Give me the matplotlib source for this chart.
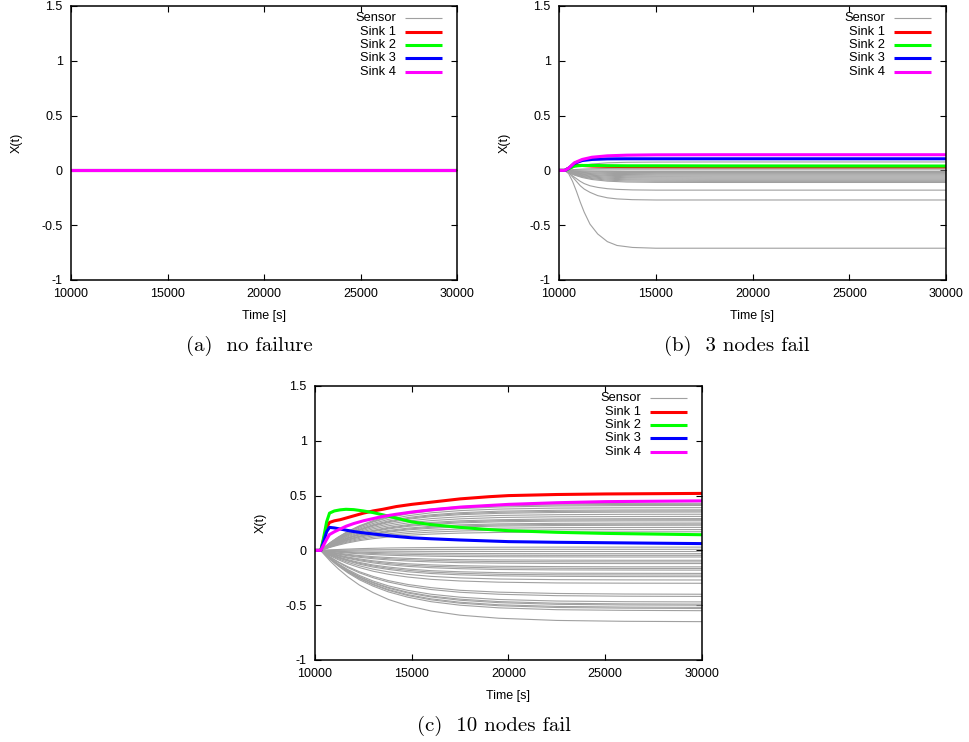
import matplotlib
matplotlib.use("Agg")
import matplotlib.pyplot as plt

plt.rcParams['font.family'] = ['Liberation Sans', 'DejaVu Sans']

# ---------------- data ----------------
x_ticks = [10000, 15000, 20000, 25000, 30000]
y_ticks = [-1, -0.5, 0, 0.5, 1, 1.5]
y_ticklabels = ['-1', '-0.5', '0', '0.5', '1', '1.5']
legend_labels = ['Sensor', 'Sink 1', 'Sink 2', 'Sink 3', 'Sink 4']
captions = ['(a)  no failure', '(b)  3 nodes fail', '(c)  10 nodes fail']

# (a) no failure: everything stays at 0
t_a = [10000, 30000]
sensors_a = [[0.0, 0.0]]
sinks_a = [[0.0, 0.0], [0.0, 0.0], [0.0, 0.0], [0.0, 0.0]]

# (b) 3 nodes fail
t_b = [10000, 10300, 10500, 10800, 11200, 11700, 12500, 13500, 15000, 18000, 30000]
sensors_b_small = [
    [0, 0, 0.014, 0.030, 0.045, 0.058, 0.069, 0.074, 0.076, 0.077, 0.077],
    [0, 0, 0.004, 0.008, 0.012, 0.015, 0.018, 0.019, 0.020, 0.020, 0.020],
    [0, 0, 0.001, 0.002, 0.003, 0.004, 0.004, 0.005, 0.005, 0.005, 0.005],
    [0, 0, -0.002, -0.004, -0.006, -0.008, -0.009, -0.010, -0.010, -0.010, -0.010],
    [0, 0, -0.004, -0.008, -0.012, -0.015, -0.018, -0.019, -0.020, -0.020, -0.020],
    [0, 0, -0.005, -0.012, -0.018, -0.023, -0.027, -0.029, -0.030, -0.030, -0.030],
    [0, 0, -0.007, -0.016, -0.024, -0.030, -0.036, -0.038, -0.040, -0.040, -0.040],
    [0, 0, -0.009, -0.020, -0.030, -0.038, -0.045, -0.048, -0.050, -0.050, -0.050],
    [0, 0, -0.011, -0.023, -0.035, -0.045, -0.053, -0.058, -0.059, -0.060, -0.060],
    [0, 0, -0.013, -0.027, -0.041, -0.053, -0.062, -0.067, -0.069, -0.070, -0.070],
    [0, 0, -0.014, -0.031, -0.047, -0.060, -0.071, -0.077, -0.079, -0.080, -0.080],
    [0, 0, -0.016, -0.035, -0.053, -0.068, -0.080, -0.086, -0.089, -0.090, -0.090],
    [0, 0, -0.018, -0.039, -0.059, -0.075, -0.089, -0.096, -0.099, -0.100, -0.100],
    [0, 0, -0.020, -0.043, -0.065, -0.083, -0.098, -0.106, -0.109, -0.110, -0.110],
]
t_b_large = [10000, 10300, 10500, 10700, 10900, 11100, 11300, 11600, 12000, 12500,
             13000, 13800, 15000, 18000, 30000]
sensors_b_large = [
    [0, 0, -0.02, -0.05, -0.075, -0.10, -0.12, -0.14, -0.155, -0.167, -0.173, -0.178, -0.18, -0.18, -0.18],
    [0, 0, -0.02, -0.06, -0.10, -0.14, -0.17, -0.20, -0.23, -0.25, -0.26, -0.267, -0.27, -0.27, -0.27],
    [0, 0, -0.03, -0.10, -0.19, -0.29, -0.38, -0.49, -0.58, -0.65, -0.685, -0.703, -0.71, -0.71, -0.71],
]
sinks_b = [
    [0, 0, 0.020, 0.045, 0.045, 0.040, 0.037, 0.035, 0.034, 0.033, 0.033],   # Sink 1
    [0, 0, 0.015, 0.040, 0.045, 0.045, 0.043, 0.042, 0.042, 0.041, 0.040],   # Sink 2
    [0, 0, 0.020, 0.065, 0.090, 0.100, 0.105, 0.106, 0.106, 0.106, 0.106],   # Sink 3
    [0, 0, 0.020, 0.070, 0.100, 0.120, 0.133, 0.139, 0.142, 0.143, 0.143],   # Sink 4
]

# (c) 10 nodes fail
t_c = [10000, 10300, 10500, 10800, 11200, 11700, 12300, 13000, 13800, 14800,
       16000, 17500, 19500, 22500, 26000, 30000]
sensors_c = [
    # upper group
    [0, 0, 0.031, 0.073, 0.122, 0.174, 0.225, 0.272, 0.312, 0.349, 0.378, 0.400, 0.416, 0.425, 0.429, 0.430],
    [0, 0, 0.030, 0.071, 0.119, 0.170, 0.220, 0.265, 0.305, 0.341, 0.369, 0.391, 0.406, 0.415, 0.419, 0.420],
    [0, 0, 0.029, 0.069, 0.116, 0.166, 0.214, 0.259, 0.298, 0.333, 0.360, 0.381, 0.396, 0.405, 0.409, 0.410],
    [0, 0, 0.028, 0.066, 0.110, 0.158, 0.204, 0.246, 0.283, 0.316, 0.343, 0.363, 0.377, 0.386, 0.389, 0.390],
    [0, 0, 0.026, 0.063, 0.105, 0.150, 0.194, 0.234, 0.269, 0.300, 0.325, 0.344, 0.358, 0.366, 0.369, 0.370],
    [0, 0, 0.026, 0.061, 0.102, 0.146, 0.188, 0.228, 0.261, 0.292, 0.316, 0.335, 0.348, 0.356, 0.359, 0.360],
    [0, 0, 0.025, 0.059, 0.099, 0.142, 0.183, 0.221, 0.254, 0.284, 0.308, 0.326, 0.338, 0.346, 0.349, 0.350],
    [0, 0, 0.023, 0.056, 0.093, 0.134, 0.173, 0.209, 0.240, 0.268, 0.290, 0.307, 0.319, 0.326, 0.329, 0.330],
    [0, 0, 0.022, 0.052, 0.088, 0.126, 0.162, 0.196, 0.225, 0.251, 0.272, 0.288, 0.300, 0.307, 0.309, 0.310],
    [0, 0, 0.021, 0.049, 0.082, 0.117, 0.152, 0.183, 0.211, 0.235, 0.255, 0.270, 0.280, 0.287, 0.289, 0.290],
    [0, 0, 0.020, 0.047, 0.079, 0.113, 0.146, 0.177, 0.203, 0.227, 0.246, 0.260, 0.271, 0.277, 0.279, 0.280],
    [0, 0, 0.019, 0.046, 0.076, 0.109, 0.141, 0.171, 0.196, 0.219, 0.237, 0.251, 0.261, 0.267, 0.269, 0.270],
    [0, 0, 0.018, 0.042, 0.071, 0.101, 0.131, 0.158, 0.182, 0.203, 0.220, 0.233, 0.242, 0.247, 0.249, 0.250],
    [0, 0, 0.017, 0.041, 0.068, 0.097, 0.126, 0.152, 0.174, 0.195, 0.211, 0.223, 0.232, 0.237, 0.239, 0.240],
    [0, 0, 0.016, 0.039, 0.065, 0.093, 0.120, 0.145, 0.167, 0.187, 0.202, 0.214, 0.222, 0.227, 0.229, 0.230],
    [0, 0, 0.015, 0.035, 0.059, 0.085, 0.110, 0.133, 0.152, 0.170, 0.185, 0.195, 0.203, 0.208, 0.209, 0.210],
    [0, 0, 0.013, 0.032, 0.054, 0.077, 0.099, 0.120, 0.138, 0.154, 0.167, 0.177, 0.184, 0.188, 0.189, 0.190],
    [0, 0, 0.012, 0.029, 0.048, 0.069, 0.089, 0.107, 0.123, 0.138, 0.149, 0.158, 0.164, 0.168, 0.169, 0.170],
    # middle group
    [0, 0, 0.002, 0.005, 0.008, 0.012, 0.016, 0.019, 0.022, 0.024, 0.026, 0.028, 0.029, 0.030, 0.030, 0.030],
    [0, 0, 0.001, 0.002, 0.003, 0.004, 0.005, 0.006, 0.007, 0.008, 0.009, 0.009, 0.010, 0.010, 0.010, 0.010],
    [0, 0, -0.001, -0.002, -0.003, -0.004, -0.005, -0.006, -0.007, -0.008, -0.009, -0.009, -0.010, -0.010, -0.010, -0.010],
    [0, 0, -0.002, -0.005, -0.008, -0.012, -0.016, -0.019, -0.022, -0.024, -0.026, -0.028, -0.029, -0.030, -0.030, -0.030],
    [0, 0, -0.003, -0.008, -0.013, -0.018, -0.024, -0.028, -0.033, -0.036, -0.040, -0.042, -0.044, -0.045, -0.045, -0.045],
    [0, 0, -0.004, -0.010, -0.017, -0.024, -0.031, -0.038, -0.044, -0.049, -0.053, -0.056, -0.058, -0.059, -0.060, -0.060],
    [0, 0, -0.006, -0.015, -0.025, -0.036, -0.047, -0.057, -0.065, -0.073, -0.079, -0.084, -0.087, -0.089, -0.090, -0.090],
    [0, 0, -0.007, -0.018, -0.030, -0.043, -0.055, -0.066, -0.076, -0.085, -0.092, -0.098, -0.102, -0.104, -0.105, -0.105],
    [0, 0, -0.009, -0.020, -0.034, -0.049, -0.063, -0.076, -0.087, -0.097, -0.105, -0.112, -0.116, -0.119, -0.120, -0.120],
    [0, 0, -0.011, -0.025, -0.042, -0.061, -0.078, -0.095, -0.109, -0.122, -0.132, -0.140, -0.145, -0.148, -0.150, -0.150],
    [0, 0, -0.012, -0.028, -0.047, -0.067, -0.086, -0.104, -0.120, -0.134, -0.145, -0.153, -0.160, -0.163, -0.165, -0.165],
    [0, 0, -0.013, -0.030, -0.051, -0.073, -0.094, -0.114, -0.131, -0.146, -0.158, -0.167, -0.174, -0.178, -0.179, -0.180],
    [0, 0, -0.015, -0.035, -0.059, -0.085, -0.110, -0.133, -0.152, -0.170, -0.185, -0.195, -0.203, -0.208, -0.209, -0.210],
    [0, 0, -0.016, -0.038, -0.064, -0.091, -0.118, -0.142, -0.163, -0.182, -0.198, -0.209, -0.218, -0.223, -0.224, -0.225],
    [0, 0, -0.017, -0.041, -0.068, -0.097, -0.126, -0.152, -0.174, -0.195, -0.211, -0.223, -0.232, -0.237, -0.239, -0.240],
    [0, 0, -0.019, -0.046, -0.076, -0.109, -0.141, -0.171, -0.196, -0.219, -0.237, -0.251, -0.261, -0.267, -0.269, -0.270],
    [0, 0, -0.021, -0.051, -0.085, -0.122, -0.157, -0.190, -0.218, -0.243, -0.264, -0.279, -0.290, -0.297, -0.299, -0.300],
    # lower group
    [0, 0, -0.026, -0.062, -0.104, -0.149, -0.195, -0.237, -0.276, -0.311, -0.340, -0.364, -0.381, -0.393, -0.398, -0.400],
    [0, 0, -0.027, -0.065, -0.109, -0.157, -0.205, -0.249, -0.289, -0.326, -0.357, -0.382, -0.400, -0.413, -0.418, -0.420],
    [0, 0, -0.030, -0.072, -0.122, -0.175, -0.229, -0.279, -0.324, -0.365, -0.400, -0.427, -0.448, -0.462, -0.468, -0.470],
    [0, 0, -0.031, -0.075, -0.127, -0.183, -0.239, -0.291, -0.338, -0.381, -0.417, -0.445, -0.467, -0.482, -0.488, -0.490],
    [0, 0, -0.032, -0.077, -0.130, -0.187, -0.244, -0.297, -0.345, -0.389, -0.425, -0.455, -0.477, -0.492, -0.498, -0.500],
    [0, 0, -0.033, -0.080, -0.135, -0.194, -0.253, -0.308, -0.358, -0.404, -0.442, -0.473, -0.496, -0.511, -0.517, -0.520],
    [0, 0, -0.034, -0.082, -0.137, -0.198, -0.258, -0.314, -0.365, -0.412, -0.451, -0.482, -0.505, -0.521, -0.527, -0.530],
    [0, 0, -0.035, -0.085, -0.142, -0.205, -0.268, -0.326, -0.379, -0.427, -0.468, -0.500, -0.524, -0.541, -0.547, -0.550],
    [0, 0, -0.042, -0.100, -0.168, -0.242, -0.317, -0.385, -0.448, -0.505, -0.553, -0.591, -0.619, -0.639, -0.647, -0.650],
]
t_c_sink = [10000, 10300, 10450, 10600, 10750, 11000, 11300, 11600, 12000, 12500, 13000,
            13500, 14200, 15000, 16000, 17500, 19000, 20000, 22500, 25000, 30000]
sinks_c = [
    [0, 0, 0.10, 0.21, 0.255, 0.27, 0.28, 0.295, 0.315, 0.34, 0.36, 0.375, 0.40, 0.42, 0.44, 0.47, 0.49, 0.50, 0.51, 0.515, 0.52],    # Sink 1
    [0, 0, 0.12, 0.26, 0.34, 0.36, 0.37, 0.375, 0.372, 0.36, 0.345, 0.325, 0.295, 0.26, 0.235, 0.21, 0.19, 0.18, 0.165, 0.155, 0.143],  # Sink 2
    [0, 0, 0.08, 0.17, 0.21, 0.205, 0.195, 0.185, 0.172, 0.16, 0.15, 0.14, 0.127, 0.115, 0.106, 0.095, 0.086, 0.08, 0.074, 0.07, 0.062],  # Sink 3
    [0, 0, 0.05, 0.10, 0.145, 0.17, 0.195, 0.22, 0.245, 0.27, 0.29, 0.31, 0.33, 0.35, 0.37, 0.395, 0.41, 0.42, 0.435, 0.445, 0.452],   # Sink 4
]

# ---------------- style ----------------
SENSOR_COLOR = '#a0a0a0'
SINK_COLORS = ['#ff0000', '#00ff00', '#0000ff', '#ff00ff']
SENSOR_LW = 0.8
SINK_LW = 2.2

fig = plt.figure(figsize=(9.69, 7.42), dpi=100)
W, H = 969.0, 742.0


def make_axes(left_px, top_px, w_px=387, h_px=274):
    return fig.add_axes([left_px / W, 1 - (top_px + h_px) / H, w_px / W, h_px / H])


def style_axes(ax):
    ax.set_xlim(10000, 30000)
    ax.set_ylim(-1, 1.5)
    ax.set_xticks(x_ticks)
    ax.set_xticklabels([str(v) for v in x_ticks])
    ax.set_yticks(y_ticks)
    ax.set_yticklabels(y_ticklabels)
    ax.tick_params(direction='in', top=True, right=True, length=4.5, width=0.8,
                   labelsize=9, pad=5.5)
    ax.tick_params(axis='y', pad=6)
    for s in ax.spines.values():
        s.set_linewidth(1.1)
    ax.set_xlabel('Time [s]', fontsize=9)
    ax.set_ylabel('X(t)', fontsize=9)
    ax.xaxis.set_label_coords(0.5, -0.108)
    ax.yaxis.set_label_coords(-0.124, 0.5)
    # gnuplot-style key, top right
    ys = [0.955, 0.906, 0.858, 0.809, 0.760]
    cols = [SENSOR_COLOR] + SINK_COLORS
    lws = [SENSOR_LW] + [SINK_LW] * 4
    for lab, yy, c, lw in zip(legend_labels, ys, cols, lws):
        ax.text(0.842, yy, lab, transform=ax.transAxes, ha='right', va='center',
                fontsize=9.3)
        ax.plot([0.865, 0.961], [yy, yy], transform=ax.transAxes, color=c, lw=lw,
                solid_capstyle='butt')


def draw(ax, sensor_sets, t_sink, sinks):
    for t_s, group in sensor_sets:
        for s in group:
            ax.plot(t_s, s, color=SENSOR_COLOR, lw=SENSOR_LW)
    for s, c in zip(sinks, SINK_COLORS):
        ax.plot(t_sink, s, color=c, lw=SINK_LW)
    style_axes(ax)


ax_a = make_axes(71, 6, 386)
draw(ax_a, [(t_a, sensors_a)], t_a, sinks_a)

ax_b = make_axes(559, 6)
draw(ax_b, [(t_b, sensors_b_small), (t_b_large, sensors_b_large)], t_b, sinks_b)

ax_c = make_axes(315, 386)
draw(ax_c, [(t_c, sensors_c)], t_c_sink, sinks_c)

cap_kw = dict(fontsize=15, family=['cmr10', 'DejaVu Serif'], ha='center', va='center')
fig.text(249 / W, 1 - 346 / H, captions[0], **cap_kw)
fig.text(737 / W, 1 - 346 / H, captions[1], **cap_kw)
fig.text(494 / W, 1 - 726 / H, captions[2], **cap_kw)

fig.savefig('out.png', dpi=100)
